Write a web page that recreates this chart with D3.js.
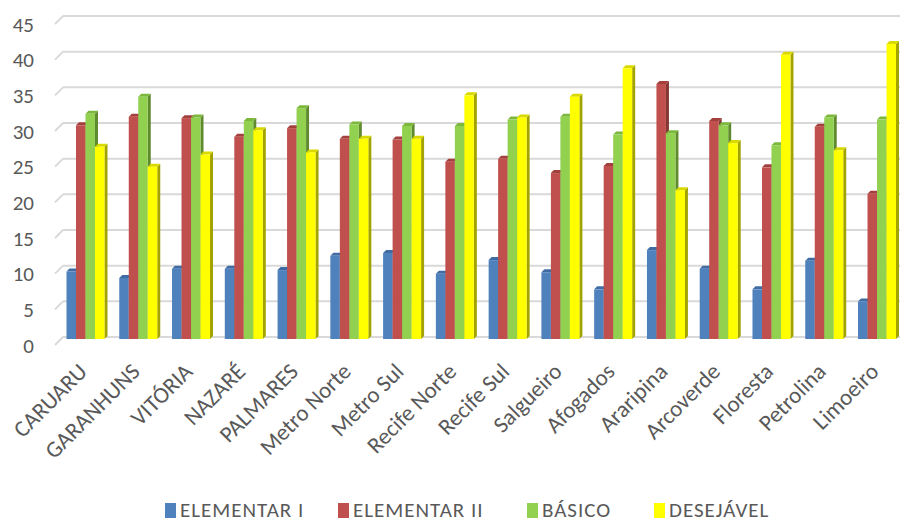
<!DOCTYPE html>
<html>
<head>
<meta charset="utf-8">
<script src="https://cdn.jsdelivr.net/npm/d3@7/dist/d3.min.js"></script>
<style>
  html, body { margin: 0; padding: 0; background: #fff; }
  svg { display: block; font-family: Carlito, Calibri, Lato, "Open Sans", sans-serif; }
</style>
</head>
<body>
<svg id="chart" width="900" height="523"></svg>
<script>
// Regional categories
const categories = ["CARUARU", "GARANHUNS", "VITÓRIA", "NAZARÉ", "PALMARES", "Metro Norte", "Metro Sul",
  "Recife Norte", "Recife Sul", "Salgueiro", "Afogados", "Araripina", "Arcoverde", "Floresta", "Petrolina", "Limoeiro"];

// Series names
const seriesNames = ["ELEMENTAR I", "ELEMENTAR II", "BÁSICO", "DESEJÁVEL"];

// Series values (one per category)
const elementarI  = [9.6, 8.7, 10.0, 10.0, 9.8, 11.8, 12.2, 9.3, 11.2, 9.5, 7.1, 12.6, 10.0, 7.1, 11.1, 5.4];
const elementarII = [30.1, 31.3, 31.1, 28.5, 29.7, 28.2, 28.1, 25.0, 25.4, 23.4, 24.4, 35.9, 30.7, 24.2, 29.9, 20.5];
const basico      = [31.7, 34.1, 31.2, 30.7, 32.5, 30.2, 30.0, 30.0, 30.9, 31.3, 28.8, 29.0, 30.1, 27.3, 31.2, 30.9];
const desejavel   = [27.1, 24.3, 26.0, 29.4, 26.3, 28.2, 28.2, 34.3, 31.2, 34.1, 38.1, 21.0, 27.6, 40.0, 26.6, 41.5];

// Axis ticks
const yTicks = [0, 5, 10, 15, 20, 25, 30, 35, 40, 45];

const seriesValues = [elementarI, elementarII, basico, desejavel];
const frontColor = ["#4F81BD", "#C0504D", "#92D050", "#FFFF00"];
const sideColor  = ["#35587f", "#853633", "#5f8a2e", "#a3a300"];
const topColor   = ["#3f6ca3", "#a3403d", "#7cb83c", "#d9d900"];

const svg = d3.select("#chart");
const W = 900;

// Back wall scale
const y = d3.scaleLinear().domain([0, 45]).range([337, 16]);
const x = d3.scaleBand().domain(categories).range([59.1, 903.4]).paddingInner(0.28).paddingOuter(0.14);
const xs = d3.scaleBand().domain(seriesNames).range([0, x.bandwidth()]);

const wallLeft = 63, depth = 8;

// Gridlines with perspective floor stub
const grid = svg.append("g");
yTicks.forEach(t => {
  grid.append("line")
    .attr("x1", wallLeft).attr("x2", W)
    .attr("y1", y(t)).attr("y2", y(t))
    .attr("stroke", "#d9d9d9").attr("stroke-width", 2);
  grid.append("line")
    .attr("x1", wallLeft - depth).attr("y1", y(t) + depth)
    .attr("x2", wallLeft).attr("y2", y(t))
    .attr("stroke", "#d9d9d9").attr("stroke-width", 2);
});

// Y tick labels
svg.append("g").selectAll("text").data(yTicks).join("text")
  .attr("x", 34).attr("y", d => y(d) + depth)
  .attr("dy", "0.36em")
  .attr("text-anchor", "end")
  .attr("fill", "#595959")
  .attr("font-size", 21)
  .text(d => d);

// 3D-style bars: the top face's back edge sits at the value
const dx3 = 3, dy3 = 3, base = y(0) + 2;
const bars = svg.append("g");
categories.forEach((c, i) => {
  seriesNames.forEach((s, k) => {
    const v = seriesValues[k][i];
    const x0 = x(c) + xs(s), w = xs.bandwidth(), yb = y(v), yt = yb + dy3;
    // right side face
    bars.append("path")
      .attr("d", `M${x0 + w},${yt} L${x0 + w + dx3},${yb} L${x0 + w + dx3},${base - dy3} L${x0 + w},${base} Z`)
      .attr("fill", sideColor[k]);
    // top face
    bars.append("path")
      .attr("d", `M${x0},${yt} L${x0 + dx3},${yb} L${x0 + w + dx3},${yb} L${x0 + w},${yt} Z`)
      .attr("fill", topColor[k]);
    // front face
    bars.append("rect")
      .attr("x", x0).attr("y", yt)
      .attr("width", w).attr("height", base - yt)
      .attr("fill", frontColor[k]);
  });
});

// Category labels
svg.append("g").selectAll("text").data(categories).join("text")
  .attr("transform", d => `translate(${x(d) + x.bandwidth() / 2 + 3},${373}) rotate(-45)`)
  .attr("text-anchor", "end")
  .attr("fill", "#595959")
  .attr("font-size", 23)
  .text(d => d);

// Legend
const legendX = [165, 338, 527, 654];
const legend = svg.append("g");
seriesNames.forEach((s, k) => {
  legend.append("rect")
    .attr("x", legendX[k]).attr("y", 503)
    .attr("width", 11).attr("height", 15)
    .attr("fill", frontColor[k]);
  legend.append("text")
    .attr("x", legendX[k] + 15).attr("y", 517)
    .attr("fill", "#595959")
    .attr("font-size", 21)
    .attr("letter-spacing", 1)
    .text(s);
});
</script>
</body>
</html>
